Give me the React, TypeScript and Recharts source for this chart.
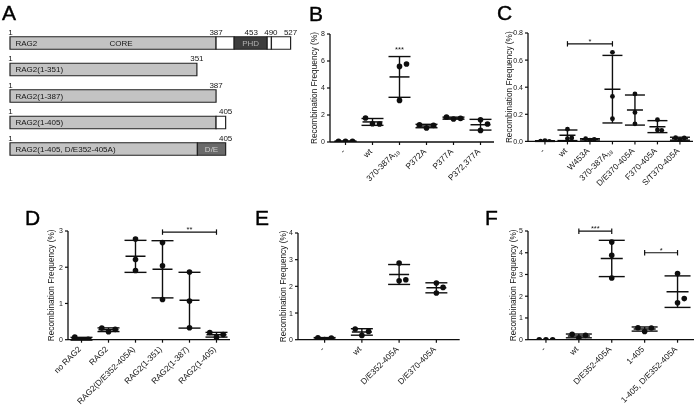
import React from "react";
import {
  Bar,
  ComposedChart,
  ErrorBar,
  LabelList,
  ReferenceDot,
  ReferenceLine,
  Scatter,
  XAxis,
  YAxis,
} from "recharts";

const FONT = '"Liberation Sans", Arial, Helvetica, sans-serif';
const INK = "#0e0e0e";
const TEXT = "#151515";

// ---- A: RAG2 constructs (segment end residues, null = segment absent)
const constructNames = ["RAG2", "RAG2(1-351)", "RAG2(1-387)", "RAG2(1-405)", "RAG2(1-405, D/E352-405A)"];
const constructTags = ["CORE", "", "", "", ""];
const coreEnd = [387, 351, 387, 387, 352];
const acidicEnd = [null, null, null, null, 405];
const linkerEnd = [421, null, null, 405, null];
const phdEnd = [483, null, null, null, null];
const hingeEnd = [491, null, null, null, null];
const tailEnd = [527, null, null, null, null];
const residueMarks = [[1, 387, 453, 490, 527], [1, 351], [1, 387], [1, 405], [1, 405]];

// ---- B
const catsB = ["-", "wt", "370-387A_18", "P372A", "P377A", "P372,377A"];
const valsB = [
  [0.05, 0.05, 0.05],
  [1.35, 1.33, 1.78],
  [5.6, 3.08, 5.78],
  [1.04, 1.23, 1.28],
  [1.7, 1.75, 1.85],
  [1.65, 0.86, 1.33],
];
const ticksB = [0, 2, 4, 6, 8];
const sigB = [{ from: 2, to: 2, y: 6.67, text: "***" }];

// ---- C
const catsC = ["-", "wt", "W453A", "370-387A_18", "D/E370-405A", "F370-405A", "S/T370-405A"];
const valsC = [
  [0.005, 0, 0.002],
  [0.02, 0.025, 0.09],
  [0.01, 0.015, 0.02],
  [0.657, 0.332, 0.167],
  [0.35, 0.214, 0.13],
  [0.085, 0.082, 0.16],
  [0.007, 0.025, 0.027],
];
const ticksC = [0, 0.2, 0.4, 0.6, 0.8];
const sigC = [{ from: 1, to: 3, y: 0.72, text: "*" }];

// ---- D
const catsD = ["no RAG2", "RAG2", "RAG2(D/E352-405A)", "RAG2(1-351)", "RAG2(1-387)", "RAG2(1-405)"];
const valsD = [
  [0, 0.01, 0.07],
  [0.22, 0.285, 0.32],
  [2.78, 2.21, 1.91],
  [2.68, 2.04, 1.11],
  [1.87, 1.07, 0.33],
  [0.07, 0.14, 0.2],
];
const ticksD = [0, 1, 2, 3];
const sigD = [{ from: 3, to: 5, y: 2.97, text: "**" }];

// ---- E
const catsE = ["-", "wt", "D/E352-405A", "D/E370-405A"];
const valsE = [
  [0.01, 0.06, 0.07],
  [0.16, 0.31, 0.4],
  [2.21, 2.25, 2.875],
  [2.125, 1.96, 1.75],
];
const ticksE = [0, 1, 2, 3, 4];
const sigE: any[] = [];

// ---- F
const catsF = ["-", "wt", "D/E352-405A", "1-405", "1-405, D/E352-405A"];
const valsF = [
  [0, 0, 0],
  [0.077, 0.2, 0.245],
  [4.49, 3.88, 2.84],
  [0.38, 0.54, 0.55],
  [3.04, 1.7, 1.89],
];
const ticksF = [0, 1, 2, 3, 4, 5];
const sigF = [
  { from: 1, to: 2, y: 4.99, text: "***" },
  { from: 3, to: 4, y: 4.0, text: "*" },
];

const segmentKeys = ["core", "acidic", "linker", "phd", "hinge", "tail"];
const segmentEnds = [coreEnd, acidicEnd, linkerEnd, phdEnd, hingeEnd, tailEnd];
const segmentFill: Record<string, string> = {
  core: "#c3c3c3",
  acidic: "#6a6a6a",
  linker: "#ffffff",
  phd: "#3d3d3d",
  hinge: "#ffffff",
  tail: "#ffffff",
};

const constructRows = constructNames.map((name, i) => {
  const row: any = {
    name,
    tag: constructTags[i],
    phdText: phdEnd[i] ? "PHD" : "",
    deText: acidicEnd[i] ? "D/E" : "",
  };
  let prev = 0;
  segmentKeys.forEach((k, s) => {
    const end = segmentEnds[s][i];
    if (end != null) {
      row[k] = end - prev;
      prev = end;
    }
  });
  return row;
});

const markPoints = residueMarks.flatMap((marks, i) => marks.map((m) => ({ res: m, name: constructNames[i] })));

const segText = (dx: number, color: string, anchor: "start" | "middle") => (props: any) => {
  const p = { ...props, ...(props.viewBox || {}) };
  if (!p.value) return null;
  const tx = anchor === "start" ? p.x + dx : p.x + p.width / 2 + dx;
  return (
    <text x={tx} y={p.y + p.height / 2} textAnchor={anchor} dominantBaseline="central"
      fontSize={8} fill={color} fontFamily={FONT}>
      {p.value}
    </text>
  );
};

function ConstructMap() {
  return (
    <div style={{ position: "absolute", left: 0, top: 0 }}>
      <ComposedChart layout="vertical" width={300} height={170} data={constructRows}
        margin={{ top: 29.75, right: 9.4, bottom: 7.75, left: 10 }} barSize={12.5} barCategoryGap={0}>
        <XAxis type="number" domain={[0, 527]} hide />
        <YAxis type="category" dataKey="name" hide allowDuplicatedCategory={false} />
        {segmentKeys.map((k) => (
          <Bar key={k} dataKey={k} stackId="c" fill={segmentFill[k]} stroke="#222" strokeWidth={1.2}
            isAnimationActive={false}>
            {k === "core" && <LabelList dataKey="name" content={segText(5.5, TEXT, "start")} />}
            {k === "core" && <LabelList dataKey="tag" content={segText(8, TEXT, "middle")} />}
            {k === "phd" && <LabelList dataKey="phdText" content={segText(0, "#b0b0b0", "middle")} />}
            {k === "acidic" && <LabelList dataKey="deText" content={segText(0, "#d0d0d0", "middle")} />}
          </Bar>
        ))}
        <Scatter data={markPoints} dataKey="res" isAnimationActive={false}
          shape={(p: any) => (
            <text x={p.cx} y={p.cy - 8.5} textAnchor="middle" fontSize={8} fill={TEXT} fontFamily={FONT}>
              {p.payload.res}
            </text>
          )} />
      </ComposedChart>
    </div>
  );
}

function CatTick({ x, y, payload, cats }: any) {
  const label: string = cats[payload.value] ?? "";
  const [main, sub] = label.split("_");
  return (
    <text transform={`translate(${x - 2},${y + 3}) rotate(-45)`} textAnchor="end" dy="0.35em"
      fontSize={8.3} fill={TEXT} fontFamily={FONT}>
      {main}
      {sub && <tspan fontSize={5.5} dy="1.5">{sub}</tspan>}
    </text>
  );
}

function DotPlot({ cats, values, yMax, ticks, decimals, box, pad, step, r, meanW, capW, labelDist, sig }: any) {
  const pxPerUnit = (box.bottom - box.top) / yMax;
  const points: any[] = [];
  values.forEach((vals: number[], i: number) => {
    const placed: { v: number; slot: number }[] = [];
    vals.forEach((v) => {
      const slot =
        [0, 1, -1, 2, -2].find((s) =>
          placed.every((p) => p.slot !== s || Math.abs(p.v - v) * pxPerUnit >= 6.5)
        ) ?? 0;
      placed.push({ v, slot });
      points.push({ x: i, v, slot });
    });
  });
  const summary = values.map((vals: number[], i: number) => {
    const mean = vals.reduce((a, b) => a + b, 0) / vals.length;
    const sd = Math.sqrt(vals.reduce((a, b) => a + (b - mean) ** 2, 0) / (vals.length - 1));
    return { x: i, mean, sd };
  });
  const left = box.left - 45;
  const top = box.top - 15;
  const width = box.right - left + 4;
  const height = box.bottom - top + 70;
  const t = 2.7 / pxPerUnit;
  const starLabel = (text: string) => ({
    value: text, position: "top", offset: 0, fontSize: 7.5, fill: TEXT, fontFamily: FONT,
  });

  return (
    <div style={{ position: "absolute", left, top }}>
      <ComposedChart width={width} height={height} margin={{ top: 15, right: 4, bottom: 0, left: 0 }}>
        <XAxis type="number" dataKey="x" domain={[-0.5, cats.length - 0.5]} allowDataOverflow
          ticks={cats.map((_: any, i: number) => i)} interval={0}
          padding={{ left: pad[0], right: pad[1] }} height={70} tickSize={3} tickMargin={2}
          axisLine={{ stroke: INK, strokeWidth: 1.3 }} tickLine={{ stroke: INK, strokeWidth: 1.2 }}
          tick={(p: any) => <CatTick {...p} cats={cats} />} />
        <YAxis type="number" domain={[0, yMax]} allowDataOverflow ticks={ticks} width={45}
          tickSize={3} tickMargin={2} axisLine={{ stroke: INK, strokeWidth: 1.3 }}
          tickLine={{ stroke: INK, strokeWidth: 1.2 }}
          tickFormatter={(v: number) => v.toFixed(decimals)}
          tick={{ fontSize: 7, fill: TEXT, fontFamily: FONT }}
          label={{
            value: "Recombination Frequency (%)", angle: -90, position: "insideLeft",
            offset: 45 - labelDist, style: { textAnchor: "middle" }, fontSize: 8.3, fill: TEXT, fontFamily: FONT,
          }} />
        <Scatter data={points} dataKey="v" isAnimationActive={false}
          shape={(p: any) => <circle cx={p.cx + p.payload.slot * step} cy={p.cy} r={r} fill={INK} />} />
        <Scatter data={summary} dataKey="mean" isAnimationActive={false}
          shape={(p: any) => (
            <line x1={p.cx - meanW / 2} x2={p.cx + meanW / 2} y1={p.cy} y2={p.cy} stroke={INK} strokeWidth={1.5} />
          )}>
          <ErrorBar dataKey="sd" direction="y" width={capW} stroke={INK} strokeWidth={1.4} isAnimationActive={false} />
        </Scatter>
        {sig.map((s: any, k: number) =>
          s.from === s.to ? (
            <ReferenceDot key={`d${k}`} x={s.from} y={s.y} r={0} fill="none" stroke="none"
              ifOverflow="visible" label={starLabel(s.text)} />
          ) : (
            <React.Fragment key={`b${k}`}>
              <ReferenceLine segment={[{ x: s.from, y: s.y }, { x: s.to, y: s.y }]} stroke={INK}
                strokeWidth={1.2} ifOverflow="visible" label={starLabel(s.text)} />
              <ReferenceLine segment={[{ x: s.from, y: s.y - t }, { x: s.from, y: s.y + t }]} stroke={INK}
                strokeWidth={1.2} ifOverflow="visible" />
              <ReferenceLine segment={[{ x: s.to, y: s.y - t }, { x: s.to, y: s.y + t }]} stroke={INK}
                strokeWidth={1.2} ifOverflow="visible" />
            </React.Fragment>
          )
        )}
      </ComposedChart>
    </div>
  );
}

const panelLetters = [
  { t: "A", x: 2, y: 19.5 },
  { t: "B", x: 309, y: 20.5 },
  { t: "C", x: 497, y: 19.5 },
  { t: "D", x: 25, y: 225 },
  { t: "E", x: 255, y: 225 },
  { t: "F", x: 485, y: 225 },
];

export default function App() {
  return (
    <div style={{ position: "absolute", left: 0, top: 0, width: 696, height: 408, overflow: "hidden", background: "#fff", filter: "grayscale(1)" }}>
      <ConstructMap />
      <DotPlot cats={catsB} values={valsB} yMax={8} ticks={ticksB} decimals={0}
        box={{ left: 330, right: 494, top: 34.3, bottom: 142.3 }} pad={[2, 0]}
        step={7} r={2.8} meanW={20} capW={11} labelDist={16} sig={sigB} />
      <DotPlot cats={catsC} values={valsC} yMax={0.8} ticks={ticksC} decimals={1}
        box={{ left: 528, right: 693, top: 33.3, bottom: 141.7 }} pad={[5.7, 1.8]}
        step={4.3} r={2.4} meanW={16} capW={10} labelDist={19} sig={sigC} />
      <DotPlot cats={catsD} values={valsD} yMax={3} ticks={ticksD} decimals={0}
        box={{ left: 68, right: 230, top: 231, bottom: 339.7 }} pad={[0, 0]}
        step={6.7} r={2.8} meanW={20} capW={11} labelDist={17} sig={sigD} />
      <DotPlot cats={catsE} values={valsE} yMax={4} ticks={ticksE} decimals={0}
        box={{ left: 298.3, right: 460, top: 233.3, bottom: 340 }} pad={[8, 4.7]}
        step={6.7} r={2.8} meanW={20} capW={11} labelDist={15} sig={sigE} />
      <DotPlot cats={catsF} values={valsF} yMax={5} ticks={ticksF} decimals={0}
        box={{ left: 528, right: 694, top: 231, bottom: 339.7 }} pad={[1.5, 0]}
        step={6.7} r={2.8} meanW={22} capW={13} labelDist={15} sig={sigF} />
      <svg width={696} height={408} style={{ position: "absolute", left: 0, top: 0, pointerEvents: "none" }}>
        {panelLetters.map((l) => (
          <text key={l.t} x={l.x} y={l.y} fontSize={21} fontFamily={FONT} fill="#000"
            stroke="#000" strokeWidth={0.4}>{l.t}</text>
        ))}
      </svg>
    </div>
  );
}
